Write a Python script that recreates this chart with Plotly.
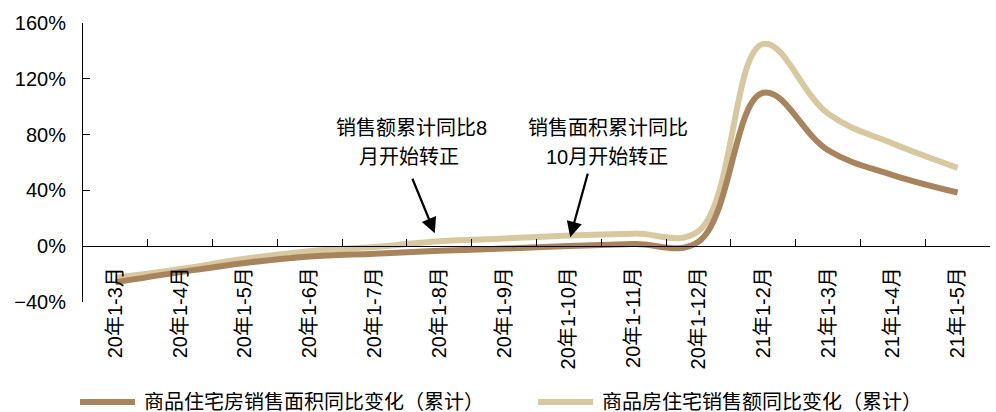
import plotly.graph_objects as go

# Category labels (cumulative periods)
periods = ["20年1-3月", "20年1-4月", "20年1-5月", "20年1-6月", "20年1-7月",
           "20年1-8月", "20年1-9月", "20年1-10月", "20年1-11月", "20年1-12月",
           "21年1-2月", "21年1-3月", "21年1-4月", "21年1-5月"]

# Cumulative YoY change, %
area_yoy = [-25.9, -18.6, -12.0, -7.4, -5.4, -3.3, -1.7, 0.2, 1.6, 3.2,
            110.0, 68.8, 51.0, 38.5]
amount_yoy = [-22.8, -16.4, -9.0, -3.6, -0.6, 3.6, 5.5, 7.6, 9.0, 10.8,
              145.0, 95.0, 73.6, 56.2]

area_name = "商品住宅房销售面积同比变化（累计）"
amount_name = "商品房住宅销售额同比变化（累计）"

DARK = "#A8845C"
LIGHT = "#D8C89F"
FONT = "Liberation Sans, Arial, Noto Sans CJK SC, sans-serif"
CJK = "Liberation Sans, Noto Sans CJK SC, sans-serif"

fig = go.Figure()
fig.add_trace(go.Scatter(x=periods, y=amount_yoy, name=amount_name, mode="lines",
                         line=dict(color=LIGHT, width=6, shape="spline", smoothing=1.1)))
fig.add_trace(go.Scatter(x=periods, y=area_yoy, name=area_name, mode="lines",
                         line=dict(color=DARK, width=6, shape="spline", smoothing=1.1)))

ymin, ymax = -40, 160
zero_frac = (0 - ymin) / (ymax - ymin)

fig.update_layout(
    width=996, height=412,
    margin=dict(l=83, r=6, t=23, b=110),
    paper_bgcolor="white", plot_bgcolor="white",
    showlegend=False,
    font=dict(family=FONT, size=20, color="black"),
    xaxis=dict(
        type="category", anchor="free", position=zero_frac,
        range=[-0.5, len(periods) - 0.5],
        showline=True, linecolor="black", linewidth=1,
        ticks="inside", ticklen=7, tickcolor="black", tickson="boundaries",
        tickangle=-90, ticklabelstandoff=12,
        tickfont=dict(family=CJK, size=20, color="black"),
        showgrid=False, zeroline=False,
    ),
    yaxis=dict(
        range=[ymin, ymax], dtick=40, tick0=0, ticksuffix="%",
        showline=True, linecolor="black", linewidth=1,
        ticks="inside", ticklen=7, tickcolor="black",
        ticklabelstandoff=12,
        showgrid=False, zeroline=False,
        tickfont=dict(family=FONT, size=20, color="black"),
    ),
)

# Callout text and arrows
note_font = dict(family=CJK, size=20, color="black")
fig.add_annotation(x=4.57, y=85.0, text="销售额累计同比8", showarrow=False,
                   font=note_font, xref="x", yref="y")
fig.add_annotation(x=4.53, y=64.0, text="月开始转正", showarrow=False,
                   font=note_font, xref="x", yref="y")
fig.add_annotation(x=4.93, y=9.3, ax=-23, ay=-56, text="", showarrow=True,
                   arrowhead=2, arrowsize=1.4, arrowwidth=2.2, arrowcolor="black",
                   xref="x", yref="y")

fig.add_annotation(x=7.6, y=85.0, text="销售面积累计同比", showarrow=False,
                   font=note_font, xref="x", yref="y")
fig.add_annotation(x=7.59, y=64.0, text="10月开始转正", showarrow=False,
                   font=note_font, xref="x", yref="y")
fig.add_annotation(x=7.02, y=6.5, ax=18, ay=-65, text="", showarrow=True,
                   arrowhead=2, arrowsize=1.4, arrowwidth=2.2, arrowcolor="black",
                   xref="x", yref="y")

# Legend drawn below the axis labels
plot_w, plot_h = 996 - 83 - 6, 412 - 23 - 110
def px(xpix):
    return (xpix - 83) / plot_w
def py(ypix):
    return (302 - ypix) / plot_h

leg_y = py(402)
for x0, x1, tx, color, name in [(80, 135, 142, DARK, area_name),
                                (538, 593, 600, LIGHT, amount_name)]:
    fig.add_shape(type="line", xref="paper", yref="paper",
                  x0=px(x0), x1=px(x1), y0=leg_y, y1=leg_y,
                  line=dict(color=color, width=6))
    fig.add_annotation(x=px(tx), y=leg_y, xref="paper", yref="paper",
                       text=name, showarrow=False, xanchor="left", yanchor="middle",
                       height=20, valign="middle",
                       font=dict(family=CJK, size=20, color="black"))

fig.write_html("out.html")
